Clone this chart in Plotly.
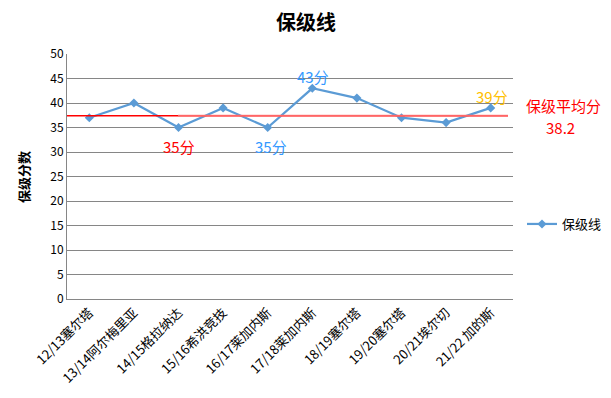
import plotly.graph_objects as go

categories = ["12/13塞尔塔", "13/14阿尔梅里亚", "14/15格拉纳达", "15/16希洪竞技", "16/17莱加内斯",
              "17/18莱加内斯", "18/19塞尔塔", "19/20塞尔塔", "20/21埃尔切", "21/22 加的斯"]
scores = [37, 40, 35, 39, 35, 43, 41, 37, 36, 39]
avg_line = 37.4
avg_label = "38.2"
y_ticks = [0, 5, 10, 15, 20, 25, 30, 35, 40, 45, 50]

FONT = "Noto Sans CJK SC, Microsoft YaHei, sans-serif"
BLUE = "#5b9bd5"

# plot area in screen pixels; the page body adds an 8px margin on every side,
# so the figure is sized to fit the 611x398 window without overflow
OFF = 8
PL, PR, PT, PB = 67, 513, 54, 299
PW, PH = PR - PL, PB - PT
W, H = 611 - 2 * OFF, 398 - 2 * OFF


def px(sx):
    return (sx - PL) / PW


def py(sy):
    return (PB - sy) / PH


fig = go.Figure()
fig.add_trace(go.Scatter(
    x=categories, y=scores, mode="lines+markers", name="保级线",
    line=dict(color=BLUE, width=2.2),
    marker=dict(symbol="diamond", size=7, color=BLUE),
))

# average line (extends a bit past the last category)
fig.add_shape(type="line", xref="paper", yref="y", x0=0, x1=px(508), y0=avg_line, y1=avg_line,
              line=dict(color="#ff0000", width=1.3), layer="above")
fig.add_shape(type="line", xref="paper", yref="y", x0=px(178), x1=px(508), y0=avg_line, y1=avg_line,
              line=dict(color="rgba(255,120,120,0.85)", width=2), layer="above")

ann = [
    dict(x=categories[2], y=scores[2], text="35分", font=dict(color="#ff0000", size=15, family=FONT),
         xshift=0, yshift=-19, yanchor="middle"),
    dict(x=categories[4], y=scores[4], text="35分", font=dict(color="#3399ff", size=15, family=FONT),
         xshift=3, yshift=-19, yanchor="middle"),
    dict(x=categories[5], y=scores[5], text="43分", font=dict(color="#3399ff", size=15, family=FONT),
         xshift=1, yshift=12, yanchor="middle"),
    dict(x=categories[9], y=scores[9], text="39分", font=dict(color="#ffc000", size=15, family=FONT),
         xshift=1, yshift=11, yanchor="middle"),
]
for a in ann:
    fig.add_annotation(xref="x", yref="y", showarrow=False, **a)

fig.add_annotation(xref="paper", yref="paper", x=px(563), y=py(105),
                   text="保级平均分", showarrow=False, xanchor="center", yanchor="middle",
                   font=dict(color="#ff0000", size=15, family=FONT))
fig.add_annotation(xref="paper", yref="paper", x=px(560), y=py(127),
                   text=avg_label, showarrow=False, xanchor="center", yanchor="middle",
                   font=dict(color="#ff0000", size=15, family=FONT))

fig.add_annotation(xref="paper", yref="paper", x=px(23), y=py(177),
                   text="<b>保级分数</b>", showarrow=False, textangle=-90,
                   xanchor="center", yanchor="middle",
                   font=dict(color="#000000", size=13, family=FONT))

fig.update_layout(
    width=W, height=H,
    margin=dict(l=PL - OFF, r=W - (PR - OFF), t=PT - OFF, b=H - (PB - OFF), autoexpand=False),
    paper_bgcolor="white", plot_bgcolor="white",
    title=dict(text="<b>保级线</b>", x=(306 - OFF) / W, xanchor="center", y=1 - (23 - OFF) / H,
               yanchor="middle", font=dict(size=20, color="#000000", family=FONT), automargin=False),
    font=dict(family=FONT, size=12, color="#000000"),
    showlegend=True,
    legend=dict(x=px(522), y=py(224), xanchor="left", yanchor="middle",
                font=dict(size=13, family=FONT, color="#000000"), bgcolor="rgba(0,0,0,0)"),
    xaxis=dict(type="category", showgrid=False, showline=True, linecolor="#868686", linewidth=1,
               ticks="", tickangle=-45, tickfont=dict(size=13, family=FONT), range=[-0.5, 9.5],
               automargin=False),
    yaxis=dict(range=[0, 50], tickvals=y_ticks, showgrid=True, gridcolor="#868686", gridwidth=1,
               showline=True, linecolor="#868686", linewidth=1, zeroline=False, ticks="",
               tickfont=dict(size=12, family=FONT), automargin=False),
)

fig.write_html("out.html")
